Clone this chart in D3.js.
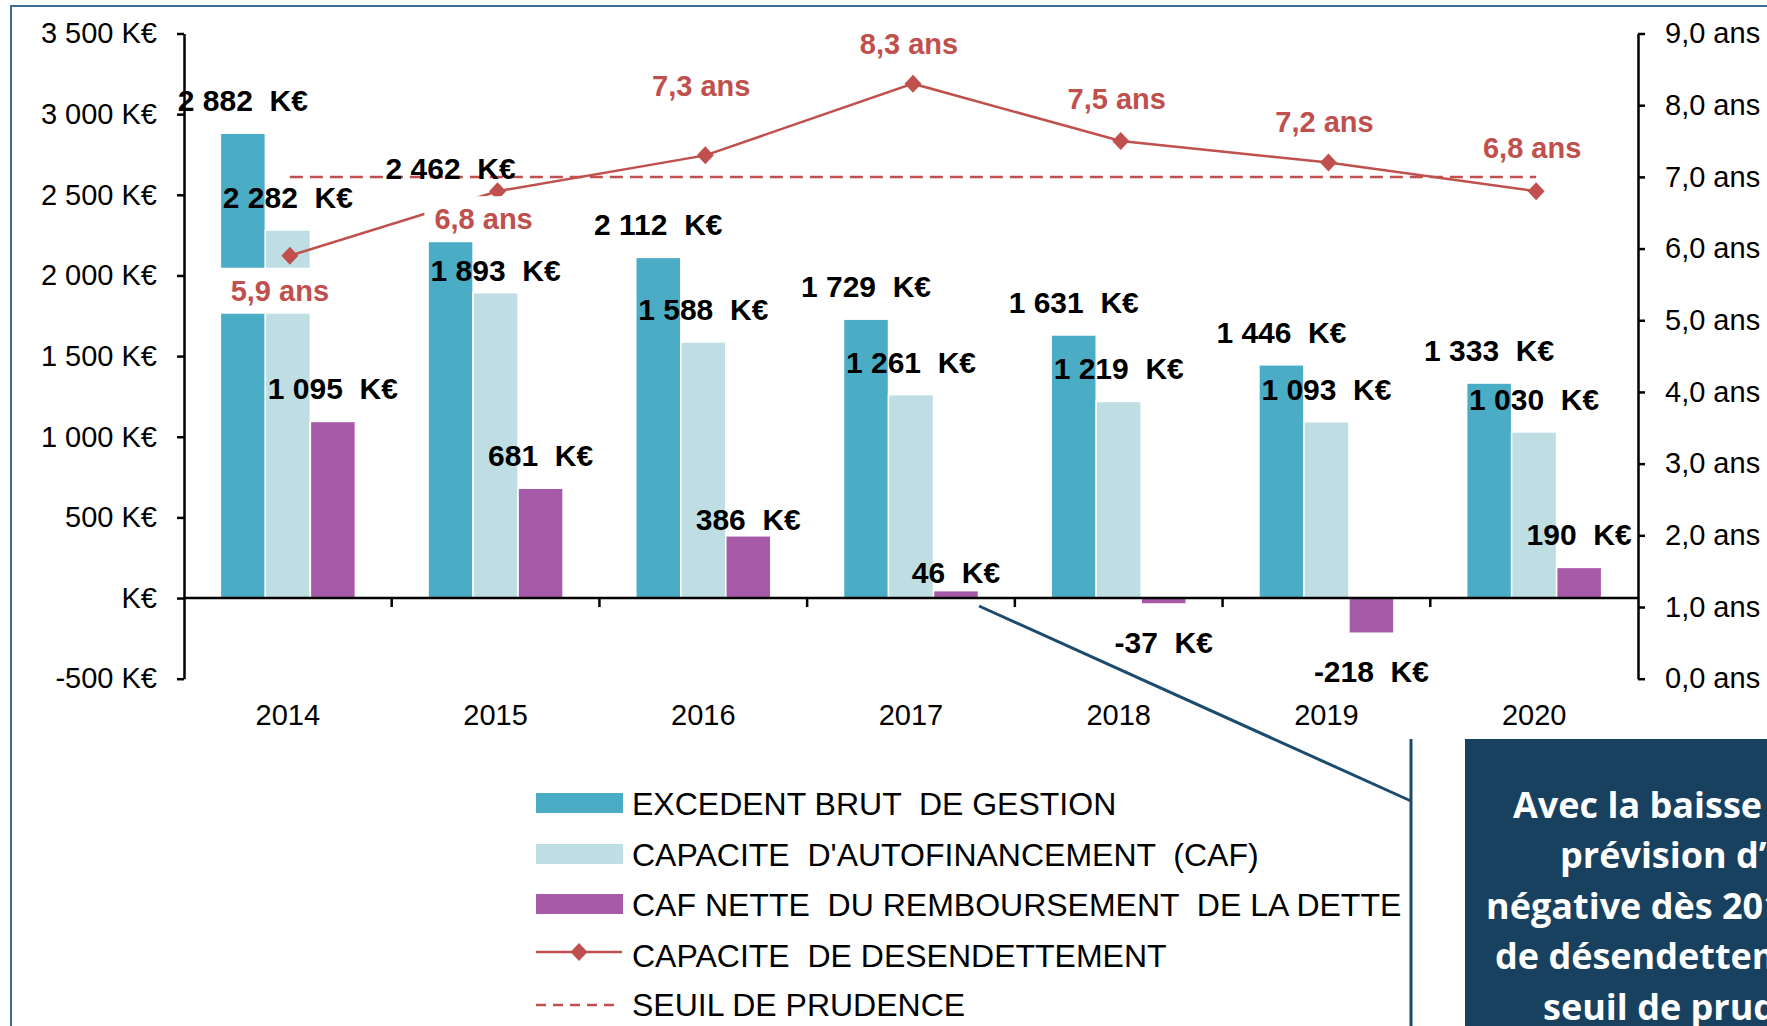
<!DOCTYPE html>
<html>
<head>
<meta charset="utf-8">
<script src="https://cdn.jsdelivr.net/npm/d3@7/dist/d3.min.js"></script>
<style>
  body { margin: 0; background: #fff; }
  svg text { white-space: pre; }
</style>
</head>
<body>
<div id="chart"></div>
<script>
// ---- data ----
const years = ["2014", "2015", "2016", "2017", "2018", "2019", "2020"];
const ebg = [2882, 2215, 2112, 1729, 1631, 1446, 1333];          // bar heights as drawn
const ebgLabels = [2882, 2462, 2112, 1729, 1631, 1446, 1333];    // figures printed above
const caf = [2282, 1893, 1588, 1261, 1219, 1093, 1030];
const cafNette = [1095, 681, 386, 46, -37, -218, 190];
const ratio = [5.9, 6.8, 7.3, 8.3, 7.5, 7.2, 6.8];
const seuil = 7.0;
const leftTicks = [-500, 0, 500, 1000, 1500, 2000, 2500, 3000, 3500];
const rightTicks = [0, 1, 2, 3, 4, 5, 6, 7, 8, 9];
const legendLabels = [
    "EXCEDENT BRUT  DE GESTION",
    "CAPACITE  D'AUTOFINANCEMENT  (CAF)",
    "CAF NETTE  DU REMBOURSEMENT  DE LA DETTE",
    "CAPACITE  DE DESENDETTEMENT",
    "SEUIL DE PRUDENCE"
];
const noteLines = [
    "Avec la baisse de l\u2019EBG et la",
    "prévision d\u2019épargne nette",
    "négative dès 2018, la capacité",
    "de désendettement dépasse le",
    "seuil de prudence."
];

const W = 1767, H = 1026;
const colors = { ebg: "#4BACC6", caf: "#BEDEE3", net: "#A75AA8", red: "#C0504D", navy: "#17415F" };

const loc = d3.formatLocale({ decimal: ",", thousands: "\u00a0", grouping: [3], currency: ["", ""], minus: "-" });
const fmtInt = loc.format(",d");
const fmtAns = loc.format(".1f");

const svg = d3.select("#chart").append("svg")
    .attr("width", W).attr("height", H)
    .style("font-family", "'Liberation Sans', Arial, sans-serif");

// frame round the slide object
svg.append("rect").attr("x", 11).attr("y", 6).attr("width", 1900).attr("height", 1200)
    .attr("fill", "none").attr("stroke", "#3E6E96").attr("stroke-width", 2);

const x = d3.scaleBand().domain(years).range([184, 1638]);
const groupW = 135;
const xs = d3.scaleBand().domain(["ebg", "caf", "net"]).range([0, groupW]);
const yL = d3.scaleLinear().domain([-500, 3500]).range([678.7, 33.5]);
const yR = d3.scaleLinear().domain([0, 9]).range([678.7, 33.5]);
const cx = yr => x(yr) + x.bandwidth() / 2;

const series = [
    { key: "ebg", values: ebg, labels: ebgLabels },
    { key: "caf", values: caf, labels: caf },
    { key: "net", values: cafNette, labels: cafNette }
];

// bars
series.forEach(s => {
    svg.append("g").selectAll("rect").data(years).enter().append("rect")
        .attr("x", (d) => x(d) + (x.bandwidth() - groupW) / 2 + xs(s.key))
        .attr("width", xs.bandwidth())
        .attr("y", (d, i) => yL(Math.max(0, s.values[i])))
        .attr("height", (d, i) => Math.abs(yL(s.values[i]) - yL(0)))
        .attr("fill", colors[s.key])
        .attr("stroke", "#fff").attr("stroke-width", 1.5);
});

// axes
const axisFont = g => g.selectAll("text").attr("font-size", 29).attr("fill", "#000")
    .attr("font-family", "'Liberation Sans', Arial, sans-serif");
const axisStroke = g => g.selectAll("path,line").attr("stroke", "#000").attr("stroke-width", 2.5);

svg.append("g").attr("transform", "translate(184,0)")
    .call(d3.axisLeft(yL).tickValues(leftTicks).tickSize(7).tickSizeOuter(0).tickPadding(20)
        .tickFormat(v => v === 0 ? "K€" : fmtInt(v) + "\u00a0K€"))
    .call(axisFont).call(axisStroke);

svg.append("g").attr("transform", "translate(1638,0)")
    .call(d3.axisRight(yR).tickValues(rightTicks).tickSize(7).tickSizeOuter(0).tickPadding(20)
        .tickFormat(v => fmtAns(v) + "\u00a0ans"))
    .call(axisFont).call(axisStroke);

// category axis on the zero line, labels low
const xg = svg.append("g");
xg.append("line").attr("x1", 184).attr("x2", 1638).attr("y1", yL(0)).attr("y2", yL(0))
    .attr("stroke", "#000").attr("stroke-width", 2.5);
xg.selectAll(".xt").data(years.slice(1)).enter().append("line")
    .attr("x1", d => x(d)).attr("x2", d => x(d))
    .attr("y1", yL(0)).attr("y2", yL(0) + 9)
    .attr("stroke", "#000").attr("stroke-width", 2.5);
xg.selectAll("text").data(years).enter().append("text")
    .attr("x", d => cx(d)).attr("y", 725)
    .attr("text-anchor", "middle").attr("font-size", 29).text(d => d);

// seuil de prudence
svg.append("line")
    .attr("x1", cx(years[0]) + 2).attr("x2", cx(years[years.length - 1]) + 2)
    .attr("y1", yR(seuil)).attr("y2", yR(seuil))
    .attr("stroke", colors.red).attr("stroke-width", 2.5).attr("stroke-dasharray", "13,7");

// capacité de désendettement
const lineGen = d3.line().x((d, i) => cx(years[i]) + 2).y(d => yR(d));
svg.append("path").datum(ratio).attr("d", lineGen)
    .attr("fill", "none").attr("stroke", colors.red).attr("stroke-width", 2.5);
const diamond = "M0,-9L8.5,0L0,9L-8.5,0Z";
svg.append("g").selectAll("path").data(ratio).enter().append("path")
    .attr("d", diamond)
    .attr("transform", (d, i) => `translate(${cx(years[i]) + 2},${yR(d)})`)
    .attr("fill", colors.red);

// bar value labels
const nudge = { "caf-2015": 10, "net-2016": 16, "net-2017": 14 };
series.forEach(s => {
    svg.append("g").selectAll("text").data(years).enter().append("text")
        .attr("x", d => x(d) + (x.bandwidth() - groupW) / 2 + xs(s.key) + xs.bandwidth() / 2)
        .attr("y", (d, i) => {
            const v = s.labels[i];
            return v >= 0 ? yL(v) - 32.5 + (nudge[s.key + "-" + d] || 0) : yL(v) + 38;
        })
        .attr("dy", "0.35em")
        .attr("text-anchor", "middle")
        .attr("font-size", 30).attr("font-weight", "bold").attr("fill", "#000")
        .text((d, i) => fmtInt(s.labels[i]) + "\u00a0\u00a0K€");
});

// ratio labels with white boxes
const ratioDx = [-8, -12, -2, -2, -2, -2, -2];
const ratioDy = [35, 28, -70, -40, -42, -41, -43];
const rl = svg.append("g").selectAll("g").data(ratio).enter().append("g")
    .attr("transform", (d, i) => `translate(${cx(years[i]) + ratioDx[i]},${yR(d) + ratioDy[i]})`);
rl.append("rect").attr("fill", "#fff");
rl.append("text").attr("text-anchor", "middle").attr("dy", "0.35em")
    .attr("font-size", 29).attr("font-weight", "bold").attr("fill", colors.red)
    .text(d => fmtAns(d) + "\u00a0ans");
rl.each(function () {
    const g = d3.select(this);
    const b = g.select("text").node().getBBox();
    g.select("rect").attr("x", b.x - 10).attr("y", -23).attr("width", b.width + 20).attr("height", 46);
});

// legend
const legend = svg.append("g");
const rowY = [815, 866, 916, 967, 1016];
legendLabels.forEach((t, i) => {
    const g = legend.append("g").attr("transform", `translate(0,${rowY[i]})`);
    if (i < 3) {
        g.append("rect").attr("x", 536).attr("y", -22).attr("width", 87).attr("height", 20)
            .attr("fill", [colors.ebg, colors.caf, colors.net][i]);
    } else if (i === 3) {
        g.append("line").attr("x1", 536).attr("x2", 622).attr("y1", -15).attr("y2", -15)
            .attr("stroke", colors.red).attr("stroke-width", 2.5);
        g.append("path").attr("d", diamond).attr("transform", "translate(579,-15)").attr("fill", colors.red);
    } else {
        g.append("line").attr("x1", 536).attr("x2", 620).attr("y1", -11).attr("y2", -11)
            .attr("stroke", colors.red).attr("stroke-width", 2.5).attr("stroke-dasharray", "10,7");
    }
    g.append("text").attr("x", 632).attr("y", 0).attr("font-size", 32).attr("fill", "#000").text(t);
});

// callout
svg.append("polyline").attr("points", "979,606 1411,801")
    .attr("fill", "none").attr("stroke", "#1D4B6E").attr("stroke-width", 3);
svg.append("line").attr("x1", 1411).attr("x2", 1411).attr("y1", 739).attr("y2", H)
    .attr("stroke", "#1D4B6E").attr("stroke-width", 3);
svg.append("rect").attr("x", 1465).attr("y", 739).attr("width", 600).attr("height", 400)
    .attr("fill", colors.navy);
const noteX = [1513, 1560, 1486, 1495, 1543];
const noteY = [818, 868, 919, 969, 1020];
svg.append("g").selectAll("text").data(noteLines).enter().append("text")
    .attr("x", (d, i) => noteX[i]).attr("y", (d, i) => noteY[i])
    .attr("font-family", "'Open Sans', 'Noto Sans', sans-serif")
    .attr("font-size", 36).attr("font-weight", "bold").attr("fill", "#fff")
    .text(d => d);
</script>
</body>
</html>
